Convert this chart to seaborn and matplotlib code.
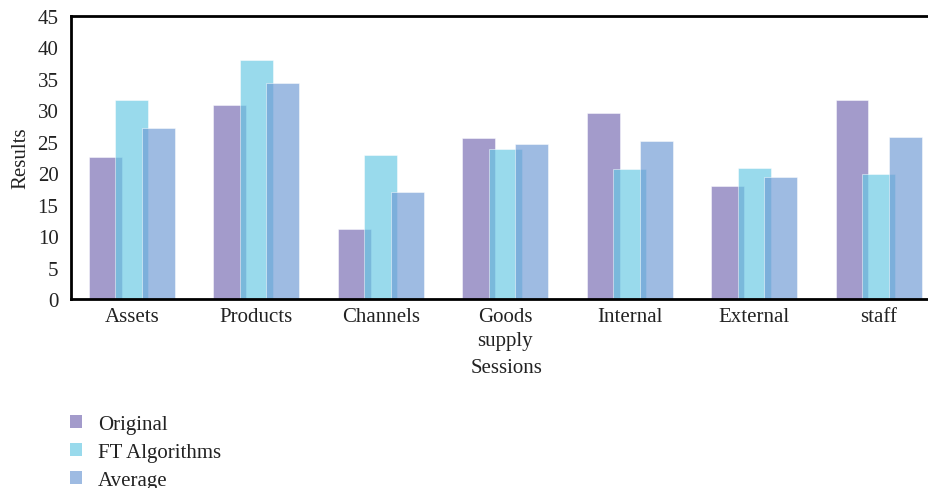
import matplotlib
matplotlib.use("Agg")
import matplotlib.pyplot as plt
import seaborn as sns
import pandas as pd
from matplotlib.patches import Patch

categories = ["Assets", "Products", "Channels", "Goods\nsupply", "Internal", "External", "staff"]
original = [22.6, 30.8, 11.1, 25.6, 29.6, 18.0, 31.6]
ft_algorithms = [31.6, 38.0, 22.9, 23.8, 20.7, 20.8, 19.9]
average = [27.2, 34.3, 17.0, 24.7, 25.1, 19.4, 25.8]
series_names = ["Original", "FT Algorithms", "Average"]
y_ticks = [0, 5, 10, 15, 20, 25, 30, 35, 40, 45]

base_colors = ["#766ab2", "#67c9e4", "#6e9ad4"]
alpha = 0.67
text_color = "#222222"
fs = 15

df = pd.DataFrame({
    "Sessions": categories * 3,
    "Results": original + ft_algorithms + average,
    "Series": [s for s in series_names for _ in categories],
})

sns.set_theme(style="white")
plt.rcParams["font.family"] = ["Liberation Serif", "DejaVu Serif"]

fig = plt.figure(figsize=(9.29, 4.89), dpi=100)
ax = fig.add_axes([0.0764, 0.3865, 0.9376, 0.5787])

sns.barplot(data=df, x="Sessions", y="Results", hue="Series",
            hue_order=series_names, palette=base_colors,
            width=0.64, dodge=True, ax=ax, legend=False,
            alpha=alpha, linewidth=0, saturation=1)

# widen each bar around its centre so neighbouring bars overlap
new_w = 0.265
for p in ax.patches:
    cx = p.get_x() + p.get_width() / 2
    p.set_width(new_w)
    p.set_x(cx - new_w / 2)
    p.set_edgecolor((1, 1, 1, 0.2))
    p.set_linewidth(0.5)

ax.set_xlim(-0.49, 6.51)
ax.set_ylim(0, 45)
ax.set_yticks(y_ticks)
ax.set_yticklabels([str(t) for t in y_ticks])
ax.tick_params(axis="both", length=0, labelsize=fs, colors=text_color)
ax.tick_params(axis="x", pad=6)
ax.tick_params(axis="y", pad=9)
for lbl in ax.get_xticklabels():
    lbl.set_linespacing(1.3)
ax.set_xlabel("Sessions", fontsize=fs, color=text_color, labelpad=6)
ax.set_ylabel("Results", fontsize=fs, color=text_color, labelpad=5)

for side in ["left", "bottom", "top"]:
    ax.spines[side].set_visible(True)
    ax.spines[side].set_color("black")
    ax.spines[side].set_linewidth(2)
ax.spines["right"].set_visible(False)

handles = [Patch(facecolor=c, alpha=alpha, edgecolor="none") for c in base_colors]
fig.legend(handles, series_names, loc="upper left", bbox_to_anchor=(0.0753, 0.149),
           frameon=False, fontsize=fs, handlelength=0.6, handleheight=0.6,
           handletextpad=0.75, labelspacing=0.42, labelcolor=text_color,
           borderaxespad=0, borderpad=0)

fig.savefig("out.png", dpi=100)
